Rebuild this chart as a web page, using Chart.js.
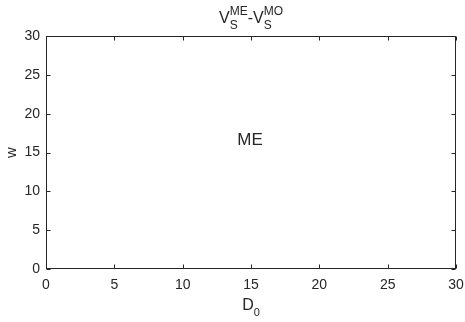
<!DOCTYPE html>
<html><head><meta charset="utf-8">
<script src="https://cdn.jsdelivr.net/npm/chart.js@4"></script>
<style>html,body{margin:0;padding:0;background:#fff;overflow:hidden}#wrap{width:465px;height:322px}</style>
</head><body><div id="wrap"><canvas id="c" width="465" height="322"></canvas></div>
<script>
// ---- data ----
const xTicks = [0, 5, 10, 15, 20, 25, 30];
const yTicks = [0, 5, 10, 15, 20, 25, 30];
const xRange = [0, 30];
const yRange = [0, 30];
const regionNames = ['ME'];
const regionX = [14.0];
const regionY = [16.6];
const seriesX = [];
const seriesY = [];

const INK = '#262626';
const FONT = '"Liberation Sans", Arial, Helvetica, sans-serif';

function drawRich(ctx, segs, cx, baseline, align) {
  let w = 0;
  const widths = segs.map(s => {
    ctx.font = s.size + 'px ' + FONT;
    if (s.t !== undefined) return ctx.measureText(s.t).width;
    return Math.max(ctx.measureText(s.sup || '').width, ctx.measureText(s.sub || '').width);
  });
  widths.forEach(v => w += v);
  let x = align === 'center' ? cx - w / 2 : cx;
  ctx.textAlign = 'left';
  ctx.textBaseline = 'alphabetic';
  segs.forEach((s, i) => {
    ctx.font = s.size + 'px ' + FONT;
    if (s.t !== undefined) ctx.fillText(s.t, x, baseline);
    else {
      if (s.sup) ctx.fillText(s.sup, x, baseline + s.supDy);
      if (s.sub) ctx.fillText(s.sub, x, baseline + s.subDy);
    }
    x += widths[i];
  });
}

const framePlugin = {
  id: 'frame',
  afterDraw(chart) {
    const ctx = chart.ctx;
    const a = chart.chartArea;
    const xs = chart.scales.x, ys = chart.scales.y;
    ctx.save();
    ctx.strokeStyle = INK;
    ctx.lineWidth = 1;
    const L = Math.round(a.left) + 0.5, R = Math.round(a.right) - 0.5;
    const T = Math.round(a.top) + 0.5, B = Math.round(a.bottom) - 0.5;
    ctx.strokeRect(L, T, R - L, B - T);
    const tl = 4;
    ctx.beginPath();
    xTicks.forEach(v => {
      const px = Math.round(xs.getPixelForValue(v)) + 0.5;
      ctx.moveTo(px, B); ctx.lineTo(px, B - tl);
      ctx.moveTo(px, T); ctx.lineTo(px, T + tl);
    });
    yTicks.forEach(v => {
      const py = Math.round(ys.getPixelForValue(v)) + 0.5;
      ctx.moveTo(L, py); ctx.lineTo(L + tl, py);
      ctx.moveTo(R, py); ctx.lineTo(R - tl, py);
    });
    ctx.stroke();

    ctx.fillStyle = INK;
    const cx = (a.left + a.right) / 2;
    // title
    drawRich(ctx, [
      {t: 'V', size: 16},
      {sup: 'ME', sub: 'S', size: 12, supDy: -8, subDy: 6},
      {t: '-', size: 16},
      {t: 'V', size: 16},
      {sup: 'MO', sub: 'S', size: 12, supDy: -8, subDy: 6}
    ], cx, 23, 'center');
    // x title
    drawRich(ctx, [
      {t: 'D', size: 16},
      {sub: '0', size: 11, subDy: 6}
    ], cx, 310, 'center');
    // y title
    ctx.save();
    ctx.translate(16, (a.top + a.bottom) / 2);
    ctx.rotate(-Math.PI / 2);
    ctx.font = '15px ' + FONT;
    ctx.textAlign = 'center';
    ctx.textBaseline = 'alphabetic';
    ctx.fillText('w', 0, 0);
    ctx.restore();
    // region labels
    ctx.font = '17px ' + FONT;
    ctx.textAlign = 'left';
    ctx.textBaseline = 'middle';
    regionNames.forEach((n, i) => {
      ctx.fillText(n, xs.getPixelForValue(regionX[i]), ys.getPixelForValue(regionY[i]));
    });
    ctx.restore();
  }
};

new Chart(document.getElementById('c'), {
  type: 'scatter',
  data: { datasets: [{ data: seriesX.map((x, i) => ({x, y: seriesY[i]})), showLine: false }] },
  options: {
    responsive: false,
    devicePixelRatio: 1,
    animation: false,
    layout: { padding: { top: 36, right: 9, left: 0, bottom: 0 } },
    plugins: { legend: { display: false }, tooltip: { enabled: false }, title: { display: false } },
    scales: {
      x: {
        type: 'linear', min: xRange[0], max: xRange[1],
        afterFit(s) { s.height = 53; s.paddingLeft = 0; s.paddingRight = 0; },
        afterBuildTicks(s) { s.ticks = xTicks.map(v => ({value: v})); },
        grid: { display: false, drawTicks: false },
        border: { display: false },
        ticks: { color: INK, font: { family: FONT, size: 14 }, padding: 8, maxRotation: 0, autoSkip: false }
      },
      y: {
        type: 'linear', min: yRange[0], max: yRange[1],
        afterFit(s) { s.width = 46; s.paddingTop = 0; s.paddingBottom = 0; },
        afterBuildTicks(s) { s.ticks = yTicks.map(v => ({value: v})); },
        grid: { display: false, drawTicks: false },
        border: { display: false },
        ticks: { color: INK, font: { family: FONT, size: 14 }, padding: 6, autoSkip: false }
      }
    }
  },
  plugins: [framePlugin]
});
</script></body></html>
